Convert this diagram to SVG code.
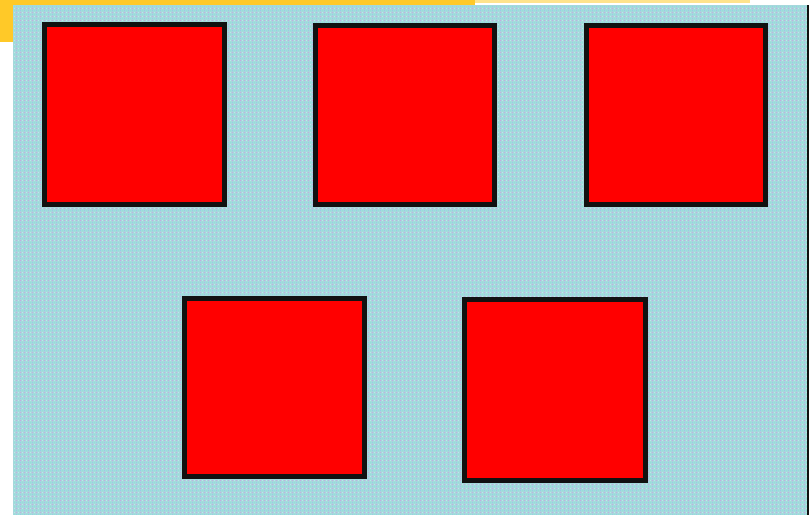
<svg xmlns="http://www.w3.org/2000/svg" width="809" height="515" viewBox="0 0 809 515">
  <defs>
    <pattern id="dither" width="4" height="4" patternUnits="userSpaceOnUse">
      <rect width="4" height="4" fill="#a6d8dc"/>
      <rect x="0" y="0" width="1" height="1" fill="#c8a8e0"/>
      <rect x="2" y="2" width="1" height="1" fill="#8ee6d8"/>
      <rect x="2" y="0" width="1" height="1" fill="#bce6e8"/>
      <rect x="0" y="2" width="1" height="1" fill="#98cce6"/>
    </pattern>
  </defs>
  <style>
    .node rect { fill: #ff0000; stroke: #111111; stroke-width: 5; }
  </style>
  <rect width="809" height="515" fill="#ffffff"/>
  <rect x="0" y="0" width="475" height="5" fill="#ffc928"/>
  <rect x="475" y="0" width="275" height="3" fill="#ffd040" opacity="0.6"/>
  <rect x="0" y="0" width="13" height="42" fill="#ffc928"/>
  <rect x="13" y="5" width="795" height="510" fill="url(#dither)"/>
  <rect x="807" y="5" width="2" height="510" fill="#111111"/>
  <g id="connectors"></g>
  <g id="node1" class="node"><rect x="44.5" y="24.5" width="180" height="180"/></g>
  <g id="node2" class="node"><rect x="315.5" y="25.5" width="179" height="179"/></g>
  <g id="node3" class="node"><rect x="586.5" y="25.5" width="179" height="179"/></g>
  <g id="node4" class="node"><rect x="184.5" y="298.5" width="180" height="178"/></g>
  <g id="node5" class="node"><rect x="464.5" y="299.5" width="181" height="181"/></g>
</svg>
